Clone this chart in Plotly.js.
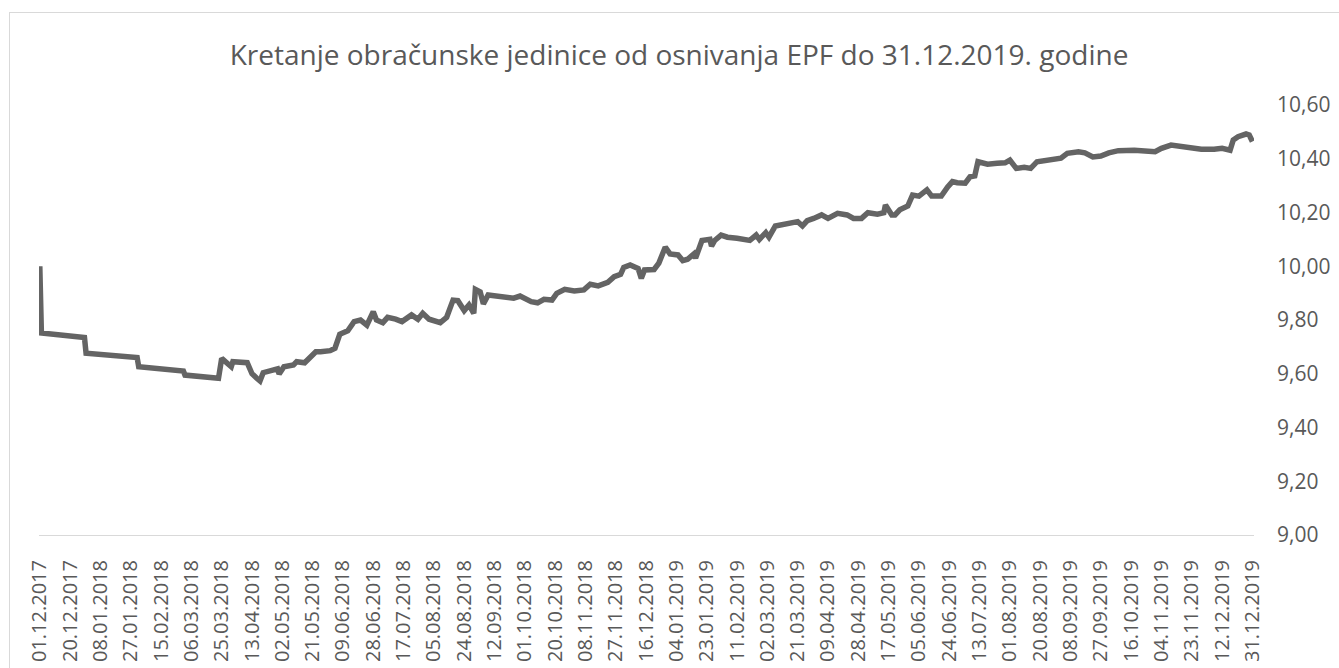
<!DOCTYPE html>
<html>
<head>
<meta charset="utf-8">
<script src="https://cdn.plot.ly/plotly-3.0.1.min.js"></script>
<style>
  html, body { margin: 0; padding: 0; background: #ffffff; overflow: hidden; }
  #chart { position: absolute; left: 0; top: 0; width: 1339px; height: 668px; }
  #frame { position: absolute; left: 9px; top: 12px; width: 1400px; height: 700px;
           border-left: 1px solid #d9d9d9; border-top: 1px solid #d9d9d9; pointer-events: none; }
</style>
</head>
<body>
<div id="chart"></div>
<div id="frame"></div>
<script>
const titleText = "Kretanje obračunske jedinice od osnivanja EPF do 31.12.2019. godine";

const dates = [
  "2017-12-01","2017-12-02","2017-12-29","2017-12-30","2018-01-31","2018-02-01","2018-03-01","2018-03-02",
  "2018-03-23","2018-03-25","2018-03-31","2018-04-01","2018-04-10","2018-04-13","2018-04-16","2018-04-18",
  "2018-04-20","2018-04-25","2018-04-29","2018-04-30","2018-05-03","2018-05-09","2018-05-11","2018-05-16",
  "2018-05-19","2018-05-23","2018-05-26","2018-06-01","2018-06-04","2018-06-07","2018-06-12","2018-06-16",
  "2018-06-20","2018-06-24","2018-06-28","2018-06-30","2018-07-04","2018-07-07","2018-07-12","2018-07-16",
  "2018-07-22","2018-07-26","2018-07-29","2018-08-02","2018-08-09","2018-08-13","2018-08-17","2018-08-20",
  "2018-08-24","2018-08-27","2018-08-30","2018-08-31","2018-09-03","2018-09-05","2018-09-08","2018-09-16",
  "2018-09-20","2018-09-24","2018-09-28","2018-10-05","2018-10-09","2018-10-13","2018-10-18","2018-10-21",
  "2018-10-26","2018-11-01","2018-11-07","2018-11-11","2018-11-16","2018-11-22","2018-11-26","2018-11-30",
  "2018-12-02","2018-12-06","2018-12-11","2018-12-13","2018-12-15","2018-12-21","2018-12-24","2018-12-28",
  "2018-12-31","2019-01-05","2019-01-08","2019-01-11","2019-01-15","2019-01-16","2019-01-20","2019-01-25",
  "2019-01-26","2019-01-28","2019-02-01","2019-02-05","2019-02-11","2019-02-19","2019-02-23","2019-02-25",
  "2019-03-01","2019-03-03","2019-03-07","2019-03-13","2019-03-17","2019-03-21","2019-03-24","2019-03-27",
  "2019-03-31","2019-04-05","2019-04-09","2019-04-15","2019-04-21","2019-04-25","2019-04-30","2019-05-04",
  "2019-05-10","2019-05-14","2019-05-15","2019-05-19","2019-05-21","2019-05-24","2019-05-29","2019-06-01",
  "2019-06-05","2019-06-10","2019-06-13","2019-06-19","2019-06-23","2019-06-26","2019-06-29","2019-07-04",
  "2019-07-07","2019-07-10","2019-07-12","2019-07-18","2019-07-24","2019-07-29","2019-08-01","2019-08-05",
  "2019-08-10","2019-08-14","2019-08-18","2019-08-25","2019-09-02","2019-09-06","2019-09-13","2019-09-17",
  "2019-09-22","2019-09-27","2019-10-02","2019-10-08","2019-10-18","2019-10-31","2019-11-04","2019-11-10",
  "2019-11-16","2019-11-23","2019-11-29","2019-12-07","2019-12-12","2019-12-17","2019-12-19","2019-12-22",
  "2019-12-25","2019-12-27","2019-12-29","2019-12-31"
];

const unitValues = [
  10.000, 9.752, 9.735, 9.676, 9.660, 9.626, 9.610, 9.595,
  9.583, 9.657, 9.626, 9.645, 9.641, 9.600, 9.583, 9.573,
  9.604, 9.614, 9.618, 9.599, 9.626, 9.633, 9.645, 9.641,
  9.661, 9.682, 9.682, 9.686, 9.695, 9.747, 9.760, 9.794,
  9.800, 9.781, 9.831, 9.800, 9.790, 9.810, 9.803, 9.794,
  9.819, 9.803, 9.825, 9.803, 9.790, 9.810, 9.874, 9.872,
  9.835, 9.856, 9.825, 9.914, 9.905, 9.860, 9.893, 9.887,
  9.887, 9.881, 9.889, 9.868, 9.864, 9.877, 9.874, 9.899,
  9.914, 9.908, 9.912, 9.933, 9.927, 9.940, 9.961, 9.970,
  9.996, 10.005, 9.992, 9.955, 9.986, 9.988, 10.012, 10.071,
  10.046, 10.042, 10.021, 10.026, 10.046, 10.030, 10.096, 10.100,
  10.075, 10.096, 10.116, 10.108, 10.104, 10.096, 10.116, 10.100,
  10.125, 10.108, 10.150, 10.157, 10.162, 10.166, 10.150, 10.170,
  10.178, 10.191, 10.178, 10.197, 10.191, 10.178, 10.178, 10.199,
  10.194, 10.199, 10.228, 10.191, 10.191, 10.210, 10.224, 10.265,
  10.261, 10.284, 10.261, 10.261, 10.295, 10.315, 10.311, 10.309,
  10.333, 10.336, 10.389, 10.380, 10.383, 10.385, 10.395, 10.364,
  10.368, 10.364, 10.389, 10.395, 10.402, 10.420, 10.426, 10.422,
  10.407, 10.410, 10.422, 10.430, 10.432, 10.426, 10.439, 10.451,
  10.445, 10.442, 10.435, 10.435, 10.439, 10.432, 10.470, 10.482,
  10.485, 10.492, 10.488, 10.464
];

const xTickLabels = [
  "01.12.2017","20.12.2017","08.01.2018","27.01.2018","15.02.2018","06.03.2018","25.03.2018","13.04.2018",
  "02.05.2018","21.05.2018","09.06.2018","28.06.2018","17.07.2018","05.08.2018","24.08.2018","12.09.2018",
  "01.10.2018","20.10.2018","08.11.2018","27.11.2018","16.12.2018","04.01.2019","23.01.2019","11.02.2019",
  "02.03.2019","21.03.2019","09.04.2019","28.04.2019","17.05.2019","05.06.2019","24.06.2019","13.07.2019",
  "01.08.2019","20.08.2019","08.09.2019","27.09.2019","16.10.2019","04.11.2019","23.11.2019","12.12.2019",
  "31.12.2019"
];

const yTickValues = [9.0, 9.2, 9.4, 9.6, 9.8, 10.0, 10.2, 10.4, 10.6];
const yTickLabels = ["9,00","9,20","9,40","9,60","9,80","10,00","10,20","10,40","10,60"];

// tick positions from the dd.mm.yyyy labels
const xTickValues = xTickLabels.map(function (s) {
  const p = s.split(".");
  return p[2] + "-" + p[1] + "-" + p[0];
});

const textColor = "#595959";
const fontFamily = "'Open Sans', 'Noto Sans', sans-serif";

const trace = {
  type: "scatter",
  mode: "lines",
  x: dates,
  y: unitValues,
  line: { color: "#646464", width: 5.5, shape: "linear" },
  hoverinfo: "x+y"
};

const layout = {
  width: 1339,
  height: 668,
  paper_bgcolor: "#ffffff",
  plot_bgcolor: "#ffffff",
  margin: { l: 39, r: 85, t: 105, b: 133 },
  showlegend: false,
  font: { family: fontFamily, color: textColor, size: 20 },
  title: {
    text: titleText,
    font: { family: fontFamily, size: 28, color: textColor },
    x: 679 / 1339, xref: "container", xanchor: "center",
    y: 1 - 55 / 668, yref: "container", yanchor: "middle"
  },
  xaxis: {
    type: "date",
    range: ["2017-11-30 12:00", "2020-01-01 00:00"],
    tickmode: "array",
    tickvals: xTickValues,
    ticktext: xTickLabels,
    tickangle: -90,
    ticks: "",
    ticklabelstandoff: 16,
    showline: true,
    linecolor: "#d9d9d9",
    linewidth: 1,
    showgrid: false,
    zeroline: false,
    tickfont: { family: fontFamily, size: 20, color: textColor },
    fixedrange: true
  },
  yaxis: {
    side: "right",
    range: [9.0, 10.6],
    tickmode: "array",
    tickvals: yTickValues,
    ticktext: yTickLabels,
    ticks: "",
    ticklabelstandoff: 22,
    showline: false,
    showgrid: false,
    zeroline: false,
    tickfont: { family: fontFamily, size: 21, color: textColor },
    fixedrange: true
  }
};

Plotly.newPlot("chart", [trace], layout, { displayModeBar: false, staticPlot: true });
</script>
</body>
</html>
